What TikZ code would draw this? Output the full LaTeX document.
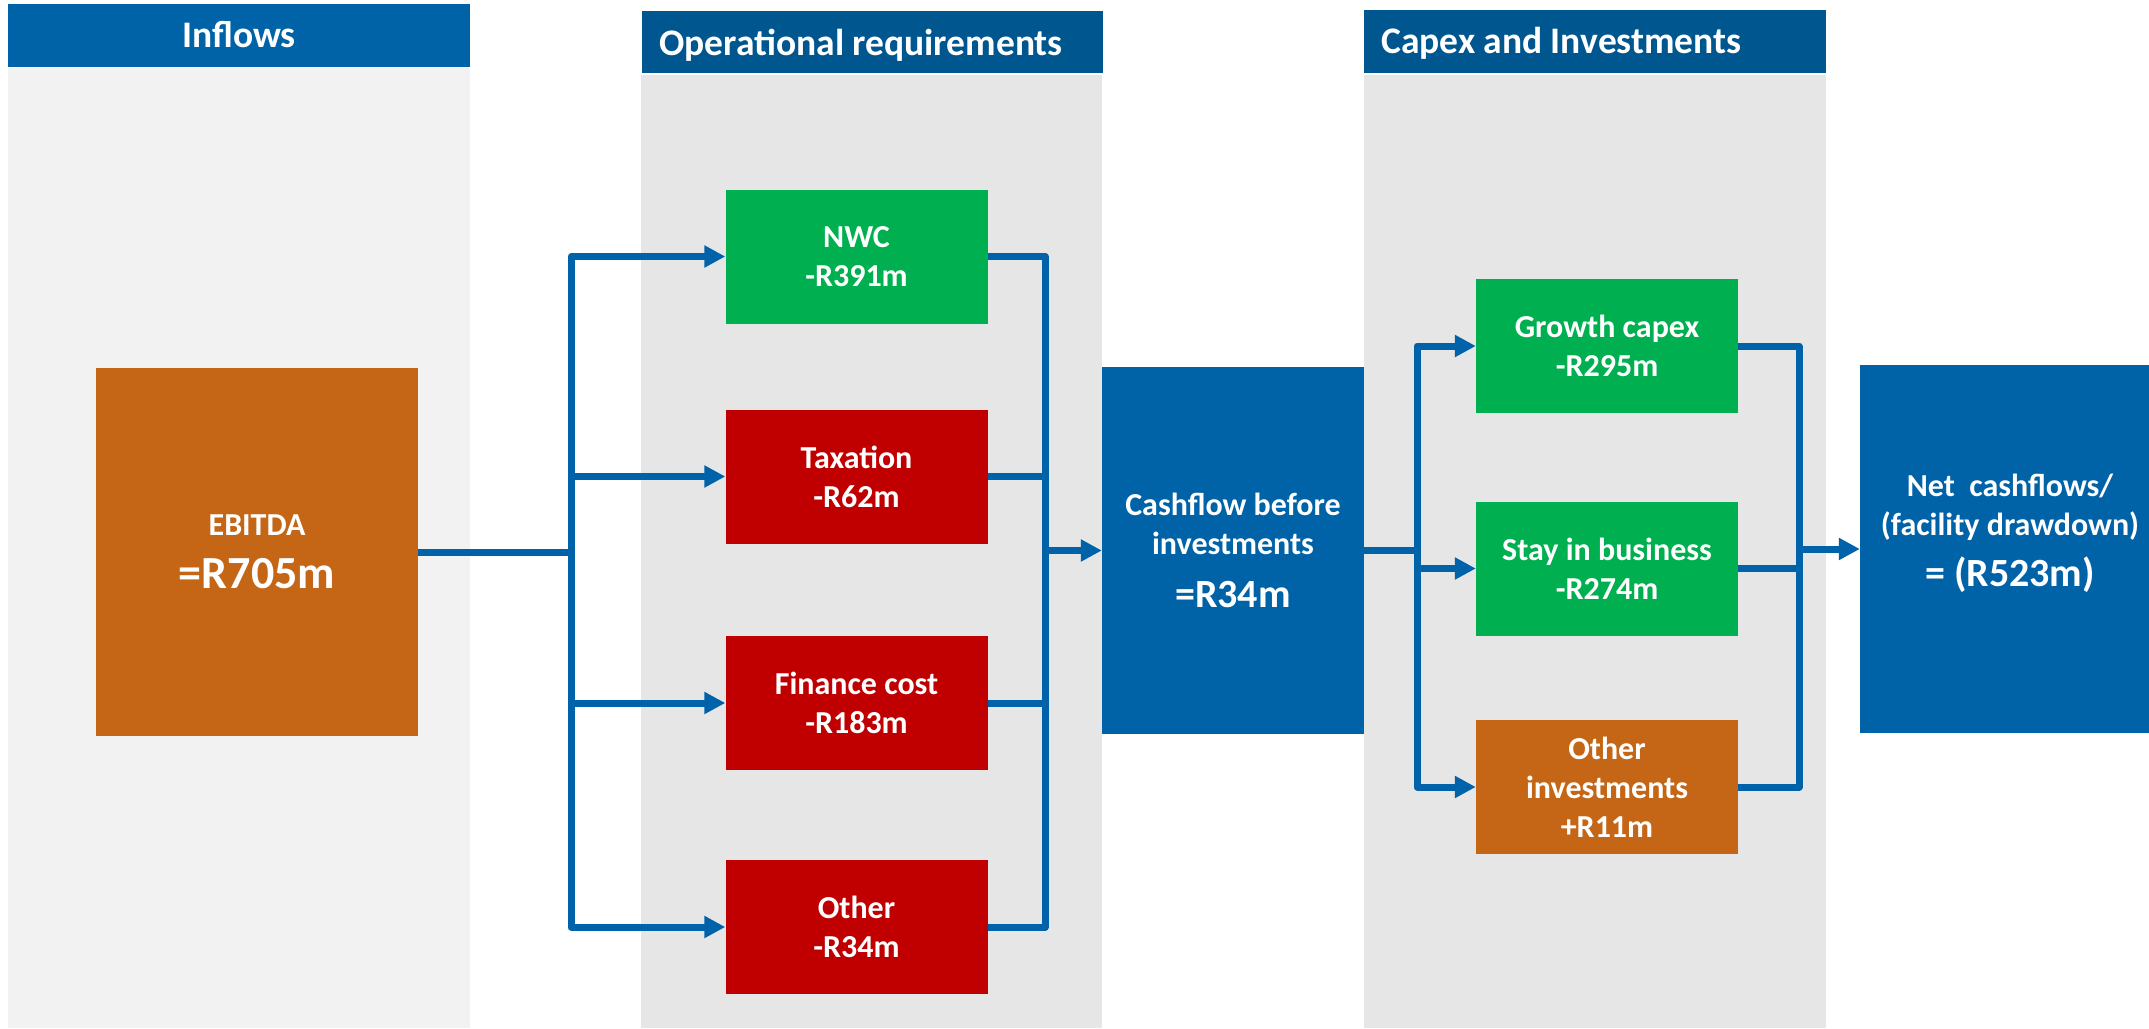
\documentclass[tikz,border=0pt]{standalone}
\usepackage{fontspec}
\setmainfont{Carlito}
\usetikzlibrary{arrows.meta}
\definecolor{hdrlight}{RGB}{0,99,168}
\definecolor{hdrdark}{RGB}{0,87,144}
\definecolor{boxblue}{RGB}{0,98,167}
\definecolor{linkblue}{RGB}{0,99,170}
\definecolor{boxgreen}{RGB}{0,176,80}
\definecolor{boxred}{RGB}{192,0,0}
\definecolor{boxorange}{RGB}{196,102,21}
\definecolor{grayA}{RGB}{242,242,242}
\definecolor{grayB}{RGB}{230,230,230}
\begin{document}
\begin{tikzpicture}[x=1pt,y=-1pt,
  box/.style={draw=none, inner sep=0pt, minimum width=262pt, minimum height=134pt,
    text=white, font=\bfseries\fontsize{32}{39}\selectfont, align=center},
  hdr/.style={draw=none, inner sep=0pt, minimum height=63pt},
  hdrtxt/.style={inner sep=0pt, text=white, font=\bfseries\fontsize{37.5}{44}\selectfont},
  conn/.style={draw=linkblue, line width=7pt, line join=round},
  arr/.style={conn, -{Triangle[length=21pt,width=21pt]}},
]
\useasboundingbox (0,0) rectangle (2149,1028);
% column backgrounds
\fill[grayA] (8,68) rectangle (470,1028);
\fill[grayB] (641,75) rectangle (1102,1028);
\fill[grayB] (1364,75) rectangle (1826,1028);
% headers
\node[hdr, fill=hdrlight, minimum width=462pt] (hin) at (239,35.5) {};
\node[hdr, fill=hdrdark, minimum width=461pt, minimum height=62pt] (hops) at (872.5,42) {};
\node[hdr, fill=hdrdark, minimum width=462pt] (hcap) at (1595,41.5) {};
\node[hdrtxt, anchor=base] (tin) at (239,47.5) {Inflows};
\node[hdrtxt, anchor=base west] (tops) at (659,55.5) {Operational requirements};
\node[hdrtxt, anchor=base west] (tcap) at (1381,53.5) {Capex and Investments};
% boxes
\node[box, fill=boxorange, minimum width=322pt, minimum height=368pt] (ebitda) at (257,552)
  {EBITDA\\[14pt]{\fontsize{46}{54}\selectfont =R705m}};
\node[box, fill=boxgreen] (nwc) at (856.5,256.5) {NWC\\-R391m};
\node[box, fill=boxred] (tax) at (856.5,476.5) {Taxation\\-R62m};
\node[box, fill=boxred] (fin) at (856.5,703) {Finance cost\\-R183m};
\node[box, fill=boxred] (oth) at (856.5,927) {Other\\-R34m};
\node[box, fill=boxblue, minimum height=367pt] (cash) at (1233,550.5)
  {Cashflow before\\investments\\[14pt]{\fontsize{40}{48}\selectfont =R34m}};
\node[box, fill=boxgreen] (growth) at (1607,346) {Growth capex\\-R295m};
\node[box, fill=boxgreen] (stay) at (1607,568.5) {Stay in business\\-R274m};
\node[box, fill=boxorange] (oinv) at (1607,787) {Other\\investments\\+R11m};
\node[box, fill=boxblue, minimum width=289pt, minimum height=368pt] (net) at (2004.5,549) {};
\node[box, minimum width=0pt, minimum height=0pt] (nettxt) at (2010,533)
  {Net\ \ cashflows/\\(facility drawdown)\\[12pt]{\fontsize{40}{48}\selectfont = (R523m)}};
% connectors: inflows to operational requirements
\coordinate (sA) at (571,552);
\draw[arr] (ebitda.east) -- (sA) |- (nwc.west);
\draw[arr] (ebitda.east) -- (sA) |- (tax.west);
\draw[arr] (ebitda.east) -- (sA) |- (fin.west);
\draw[arr] (ebitda.east) -- (sA) |- (oth.west);
\coordinate (jA) at (1045,550.5);
\draw[conn] (nwc.east) -| (jA);
\draw[conn] (tax.east) -| (jA);
\draw[conn] (fin.east) -| (jA);
\draw[conn] (oth.east) -| (jA);
\draw[arr] (jA) -- (cash.west);
% connectors: capex and investments
\coordinate (sB) at (1417,550.5);
\draw[arr] (cash.east) -- (sB) |- (growth.west);
\draw[arr] (cash.east) -- (sB) |- (stay.west);
\draw[arr] (cash.east) -- (sB) |- (oinv.west);
\coordinate (jB) at (1799,549);
\draw[conn] (growth.east) -| (jB);
\draw[conn] (stay.east) -| (jB);
\draw[conn] (oinv.east) -| (jB);
\draw[arr] (jB) -- (net.west);
\end{tikzpicture}
\end{document}
